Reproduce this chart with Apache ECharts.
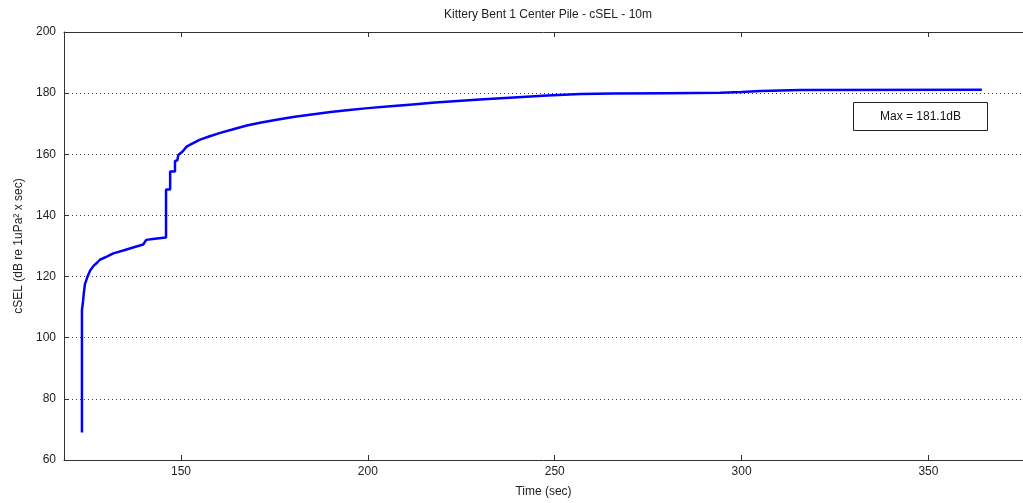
<!DOCTYPE html>
<html>
<head>
<meta charset="utf-8">
<script src="https://cdn.jsdelivr.net/npm/echarts@6/dist/echarts.min.js"></script>
<style>
  html, body { margin: 0; padding: 0; background: #fff; }
  #chart { width: 1023px; height: 503px; }
</style>
</head>
<body>
<div id="chart"></div>
<script>
// time (sec) and cumulative SEL (dB)
const timeSec = [
  123.5, 123.5, 123.8, 124.0, 124.3, 125.0, 125.7, 126.6, 127.6, 128.3,
  130.3, 131.9, 134.8, 137.4, 139.9, 140.4, 140.7, 143.0, 146.0, 146.0,
  147.1, 147.1, 148.4, 148.4, 149.0, 149.3, 150.5, 151.5, 153.0, 155.1,
  157.5, 160.5, 164.0, 167.6, 171.5, 175.6, 180.0, 185.0, 190.0, 195.0,
  200.0, 206.0, 212.0, 218.0, 224.0, 230.0, 239.0, 248.0, 256.9, 265.7,
  280.0, 294.3, 300.0, 305.0, 315.7, 364.3
]
const cselDb = [
  69.0, 109.0, 112.0, 114.6, 117.5, 120.0, 122.0, 123.5, 124.6, 125.5,
  126.6, 127.6, 128.6, 129.6, 130.5, 130.8, 132.0, 132.4, 132.8, 148.5,
  148.5, 154.4, 154.4, 157.8, 158.0, 159.8, 161.0, 162.5, 163.5, 164.8,
  165.8, 167.0, 168.2, 169.4, 170.4, 171.3, 172.2, 173.0, 173.8, 174.5,
  175.1, 175.7, 176.3, 176.9, 177.4, 177.9, 178.6, 179.2, 179.7, 179.9,
  180.0, 180.1, 180.4, 180.7, 181.0, 181.1
]
const xTicks = [150, 200, 250, 300, 350]
const maxLabel = 'Max = 181.1dB'

const font = 'Liberation Sans, Arial, sans-serif'
const myChart = echarts.init(document.getElementById('chart'))

const points = timeSec.map((t, i) => [t, cselDb[i]])

myChart.setOption({
  animation: false,
  backgroundColor: '#fff',
  title: {
    text: 'Kittery Bent 1 Center Pile - cSEL - 10m',
    left: 543, top: 4, textAlign: 'center',
    textStyle: { fontFamily: font, fontSize: 12, fontWeight: 'normal', color: '#222' }
  },
  grid: { left: 64, top: 32, right: 0, bottom: 43 },
  xAxis: [{
    type: 'value', min: 118.7, max: 375.3,
    name: 'Time (sec)', nameLocation: 'middle', nameGap: 26,
    nameTextStyle: { fontFamily: font, fontSize: 12, color: '#222' },
    axisLine: { show: true, lineStyle: { color: '#333' } },
    axisTick: { inside: true, length: 5, customValues: xTicks, lineStyle: { color: '#333' } },
    axisLabel: { customValues: xTicks, margin: 6, fontFamily: font, fontSize: 12, color: '#222' },
    splitLine: { show: false }
  }, {
    type: 'value', min: 118.7, max: 375.3, position: 'top',
    axisLine: { show: true, lineStyle: { color: '#333' } },
    axisTick: { inside: true, length: 5, customValues: xTicks, lineStyle: { color: '#333' } },
    axisLabel: { show: false },
    splitLine: { show: false }
  }],
  yAxis: {
    type: 'value', min: 60, max: 200, interval: 20,
    name: 'cSEL (dB re 1uPa² x sec)', nameLocation: 'middle', nameGap: 37,
    nameTextStyle: { fontFamily: font, fontSize: 12, color: '#222' },
    axisLine: { show: true, lineStyle: { color: '#333' } },
    axisTick: { inside: true, length: 5, lineStyle: { color: '#333' } },
    axisLabel: { margin: 8, fontFamily: font, fontSize: 12, color: '#222' },
    splitLine: { show: true, lineStyle: { type: [1, 3], color: '#444', width: 1 } }
  },
  series: [{
    type: 'line',
    data: points,
    showSymbol: false,
    lineStyle: { color: '#0000ff', width: 2.5 },
    itemStyle: { color: '#0000ff' }
  }],
  graphic: [{
    type: 'group', left: 853, top: 102,
    children: [{
      type: 'rect', shape: { x: 0, y: 0, width: 134, height: 28 },
      style: { fill: '#fff', stroke: '#222', lineWidth: 1 }
    }, {
      type: 'text', x: 67, y: 14,
      style: { text: maxLabel, font: '12px ' + font, fill: '#111', align: 'center', verticalAlign: 'middle' }
    }]
  }]
})
</script>
</body>
</html>
